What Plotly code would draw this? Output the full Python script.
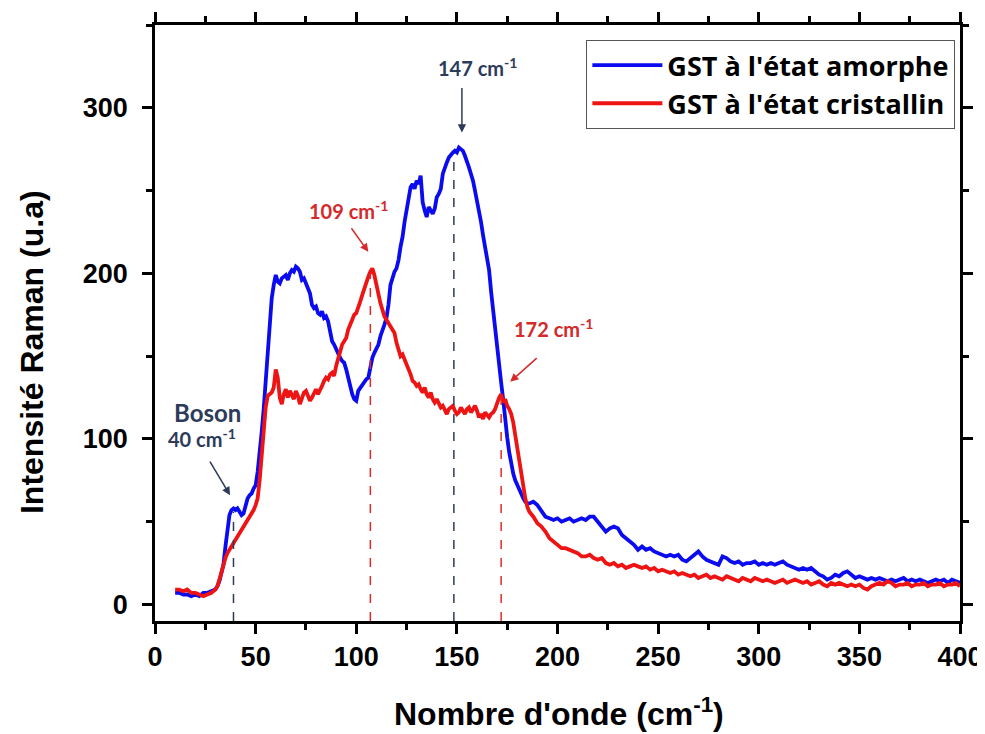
import plotly.graph_objects as go

# ---------------- data ----------------
# sampling grid of wavenumbers (cm-1)
grid_x = list(range(10, 31, 2)) + list(range(31, 187)) + list(range(188, 401, 2))

amorph_y = [
    7, 7, 6, 6, 5, 6, 5, 7, 7, 8, 9,                                  # 10-30 (step 2)
    11, 14, 19, 24, 35, 47, 54, 57, 58, 57,                           # 31-40
    58, 56, 54, 55, 60, 64, 66, 67, 70, 72,                           # 41-50
    80, 90, 104, 118, 135, 155, 172, 185, 193, 199,                   # 51-60
    195, 194, 197, 198, 199, 196, 200, 202, 201, 204,                 # 61-70
    203, 201, 196, 197, 194, 192, 188, 181, 179, 180,                 # 71-80
    176, 175, 177, 173, 174, 171, 165, 159, 157, 154,                 # 81-90
    151, 149, 147, 146, 142, 137, 131, 127, 124, 123,                 # 91-100
    129, 131, 132, 134, 136, 137, 143, 149, 152, 154,                 # 101-110
    157, 162, 165, 169, 173, 181, 193, 198, 201, 203,                 # 111-120
    208, 216, 222, 231, 238, 248, 252, 254, 251, 256,                 # 121-130
    254, 259, 243, 238, 234, 240, 238, 236, 239, 246,                 # 131-140
    248, 251, 260, 264, 267, 270, 272, 273, 274, 273,                 # 141-150
    276, 275, 274, 271, 268, 264, 260, 256, 250, 244,                 # 151-160
    238, 231, 223, 216, 210, 202, 189, 177, 166, 154,                 # 161-170
    144, 134, 124, 111, 101, 92, 85, 79, 75, 72,                      # 171-180
    69, 66, 64, 62, 61, 61,                                           # 181-186
    62, 60, 56, 53, 52, 51, 52, 50, 51, 52,                           # 188-206 (step 2)
    50, 51, 52, 51, 53, 53, 50, 47, 44, 46,                           # 208-226
    47, 46, 42, 40, 38, 36, 33, 35, 33, 34,                           # 228-246
    32, 31, 30, 29, 30, 29, 30, 27, 26, 28,                           # 248-266
    30, 32, 29, 27, 26, 25, 24, 29, 28, 26,                           # 268-286
    25, 26, 24, 25, 25, 26, 24, 25, 24, 25,                           # 288-306
    24, 25, 26, 24, 23, 22, 21, 22, 21, 22,                           # 308-326
    20, 18, 17, 15, 16, 18, 17, 19, 20, 18,                           # 328-346
    16, 17, 16, 15, 16, 15, 16, 15, 14, 15,                           # 348-366
    14, 15, 16, 14, 15, 14, 15, 14, 13, 14,                           # 368-386
    15, 14, 15, 13, 15, 14, 13,                                       # 388-400
]

cryst_y = [
    9, 9, 8, 9, 7, 7, 6, 5, 6, 7, 9,                                  # 10-30 (step 2)
    11, 15, 20, 24, 28, 31, 33, 35, 37, 39,                           # 31-40
    41, 42, 44, 46, 48, 50, 52, 54, 57, 60,                           # 41-50
    64, 75, 92, 110, 119, 126, 127, 128, 131, 142,                    # 51-60
    137, 125, 121, 127, 130, 125, 129, 127, 124, 129,                 # 61-70
    126, 121, 125, 128, 129, 126, 123, 125, 128, 130,                 # 71-80
    127, 129, 132, 135, 137, 136, 139, 140, 138, 144,                 # 81-90
    149, 152, 157, 159, 161, 166, 169, 171, 175, 176,                 # 91-100
    179, 183, 187, 191, 195, 198, 201, 203, 199, 193,                 # 101-110
    188, 182, 178, 174, 172, 170, 168, 166, 164, 158,                 # 111-120
    153, 150, 151, 148, 146, 143, 139, 135, 134, 132,                 # 121-130
    133, 130, 128, 131, 127, 125, 128, 124, 122, 124,                 # 131-140
    121, 119, 120, 117, 115, 118, 119, 120, 117, 115,                 # 141-150
    116, 119, 117, 115, 118, 119, 116, 118, 120, 117,                 # 151-160
    113, 115, 112, 116, 114, 113, 115, 116, 118, 122,                 # 161-170
    125, 127, 122, 124, 120, 118, 115, 110, 102, 94,                  # 171-180
    87, 79, 71, 64, 59, 56,                                           # 181-186
    53, 49, 47, 44, 40, 38, 36, 34, 34, 33,                           # 188-206 (step 2)
    32, 31, 29, 29, 30, 28, 27, 28, 25, 24,                           # 208-226
    25, 23, 24, 22, 23, 24, 23, 22, 23, 21,                           # 228-246
    22, 20, 21, 20, 19, 20, 18, 19, 18, 17,                           # 248-266
    18, 16, 17, 18, 16, 17, 16, 15, 17, 16,                           # 268-286
    15, 14, 16, 15, 14, 16, 15, 14, 15, 14,                           # 288-306
    13, 14, 15, 13, 14, 15, 14, 13, 14, 12,                           # 308-326
    13, 14, 12, 11, 13, 12, 13, 12, 11, 12,                           # 328-346
    11, 12, 10, 9, 11, 12, 13, 12, 14, 13,                            # 348-366
    11, 12, 12, 13, 11, 12, 12, 13, 11, 12,                           # 368-386
    12, 13, 11, 12, 12, 13, 11,                                       # 388-400
]

assert len(grid_x) == len(amorph_y) == len(cryst_y)

series_names = ["GST à l'état amorphe", "GST à l'état cristallin"]
series_colors = ["#0b0bef", "#ee1414"]

# Peak guide lines: position, top value, colour
peak_x = [39, 107, 148.5, 172]
peak_top = [56, 200, 272, 126]
peak_colors = ["#2d3b5a", "#e02a2a", "#2d3b5a", "#e02a2a"]

x_ticks = [0, 50, 100, 150, 200, 250, 300, 350, 400]
y_ticks = [0, 100, 200, 300]
x_range = [0, 400]
y_range = [-10, 350]

NAVY = "#2d3b5a"
RED = "#d42a2a"

fig = go.Figure()
fig.add_trace(go.Scatter(x=grid_x, y=amorph_y, mode="lines", name=series_names[0],
                         line=dict(color=series_colors[0], width=3.8)))
fig.add_trace(go.Scatter(x=grid_x, y=cryst_y, mode="lines", name=series_names[1],
                         line=dict(color=series_colors[1], width=3.8)))

for px, pt, pc in zip(peak_x, peak_top, peak_colors):
    fig.add_shape(type="line", xref="x", yref="y", x0=px, x1=px, y0=y_range[0], y1=pt,
                  line=dict(color=pc, width=1.5, dash="dash"))

ann_font = dict(family="Lato, Open Sans, sans-serif", size=20, weight="bold")
title_font = dict(family="Liberation Sans, Arial, sans-serif", weight="bold", color="black")
annotations = [
    dict(x=160, y=324.5, text="147 cm<sup>-1</sup>", showarrow=False, font=dict(**ann_font, color=NAVY)),
    dict(x=152.5, y=285, text="", showarrow=True, ax=0, ay=-46, arrowcolor=NAVY, arrowwidth=1.5,
         arrowhead=2, arrowsize=1.1),
    dict(x=96, y=238, text="109 cm<sup>-1</sup>", showarrow=False, font=dict(**ann_font, color=RED)),
    dict(x=106, y=213, text="", showarrow=True, ax=-18, ay=-25, arrowcolor=RED, arrowwidth=1.5,
         arrowhead=2, arrowsize=1.1),
    dict(x=198, y=167, text="172 cm<sup>-1</sup>", showarrow=False, font=dict(**ann_font, color=RED)),
    dict(x=176.5, y=134.5, text="", showarrow=True, ax=28, ay=-25, arrowcolor=RED, arrowwidth=1.5,
         arrowhead=2, arrowsize=1.1),
    dict(x=26, y=116, text="Boson", showarrow=False,
         font=dict(family="Lato, Open Sans, sans-serif", size=24, weight="bold", color=NAVY)),
    dict(x=23.5, y=100.5, text="40 cm<sup>-1</sup>", showarrow=False, font=dict(**ann_font, color=NAVY)),
    dict(x=37.3, y=66, text="", showarrow=True, ax=-21, ay=-35, arrowcolor=NAVY, arrowwidth=1.5,
         arrowhead=2, arrowsize=1.1),
    # axis titles
    dict(xref="paper", yref="paper", x=-0.1528, y=0.4513, xanchor="center", yanchor="middle",
         text="Intensité Raman (u.a)", textangle=-90, showarrow=False, font=dict(**title_font, size=32)),
    dict(xref="paper", yref="paper", x=0.502, y=-0.152, xanchor="center", yanchor="middle",
         text="Nombre d'onde (cm<sup>-1</sup>)", showarrow=False, font=dict(**title_font, size=32)),
]

axis_common = dict(
    showline=True, linecolor="black", linewidth=2.5, mirror="ticks",
    ticks="outside", ticklen=10, tickwidth=2.5, tickcolor="black",
    showgrid=False, zeroline=False, automargin=False,
    tickfont=dict(family="Liberation Sans, Arial, sans-serif", size=27, weight="bold", color="black"),
)

# the page body adds an 8 px offset, so the figure is 8 px smaller each way
fig.update_layout(
    width=977, height=726,
    margin=dict(l=147, r=25, t=17, b=113),
    paper_bgcolor="white", plot_bgcolor="white",
    xaxis=dict(**axis_common, range=x_range, tickvals=x_ticks,
               minor=dict(dtick=25, ticks="outside", ticklen=6, tickwidth=2.5, tickcolor="black")),
    yaxis=dict(**axis_common, range=y_range, tickvals=y_ticks, ticklabelstandoff=9,
               minor=dict(dtick=50, ticks="outside", ticklen=6, tickwidth=2.5, tickcolor="black")),
    legend=dict(x=0.994, y=0.975, xanchor="right", yanchor="top",
                bgcolor="white", bordercolor="#555555", borderwidth=1.2,
                font=dict(family="Open Sans, Lato, sans-serif", size=27, weight="bold", color="black"),
                itemwidth=70, tracegroupgap=0),
    annotations=annotations,
    showlegend=True,
)

fig.write_html("out.html")
